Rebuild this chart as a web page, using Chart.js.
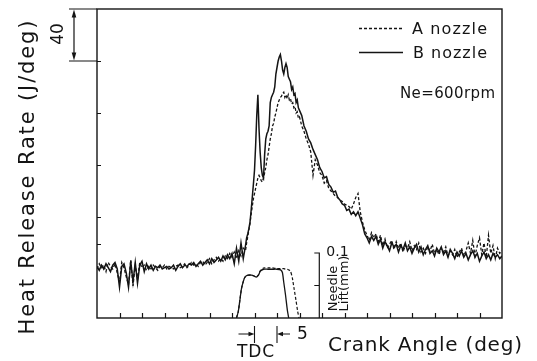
<!DOCTYPE html>
<html><head><meta charset="utf-8">
<script src="https://cdn.jsdelivr.net/npm/chart.js@4.4.1/dist/chart.umd.min.js"></script>
<style>html,body{margin:0;padding:0;background:#fff}canvas{display:block}</style>
</head><body>
<canvas id="c" width="537" height="361"></canvas>
<script>
// Crank angle (deg ATDC)
const crankAngles = [
-35,-34.5,-34,-33.5,-33,-32.5,-32,-31.5,-31,-30.5,-30,-29.5,-29,-28.5,-28,-27.5,-27,-26.5,-26,-25.5,
-25,-24.5,-24,-23.5,-23,-22.5,-22,-21.5,-21,-20.5,-20,-19.5,-19,-18.5,-18,-17.5,-17,-16.5,-16,-15.5,
-15,-14.5,-14,-13.5,-13,-12.5,-12,-11.5,-11,-10.5,-10,-9.5,-9,-8.5,-8,-7.5,-7,-6.5,-6,-5.5,
-5,-4.5,-4,-3.5,-3,-2.5,
-2,-1.75,-1.5,-1.25,-1,-0.75,-0.5,-0.25,0,0.25,0.5,0.75,1,1.25,1.5,1.75,2,2.25,2.5,2.75,
3,3.25,3.5,3.75,4,4.25,4.5,4.75,5,5.25,5.5,5.75,6,6.25,6.5,6.75,7,7.25,7.5,7.75,
8,8.25,8.5,8.75,9,9.25,9.5,9.75,10,
10.5,11,11.5,12,12.5,13,13.5,14,14.5,15,15.5,16,16.5,17,17.5,18,18.5,19,19.5,20,
20.5,21,21.5,22,22.5,23,23.5,24,24.5,25,25.5,26,26.5,27,27.5,28,28.5,29,29.5,30,
30.5,31,31.5,32,32.5,33,33.5,34,34.5,35,35.5,36,36.5,37,37.5,38,38.5,39,39.5,40,
40.5,41,41.5,42,42.5,43,43.5,44,44.5,45,45.5,46,46.5,47,47.5,48,48.5,49,49.5,50,
50.5,51,51.5,52,52.5,53,53.5,54,54.5,55];

// Heat release rate (J/deg), A nozzle (dashed)
const heatA = [
0,4,1,3,-2,5,2,0,4,-3, -10,5,1,-6,-12,7,-13,3,-8,5,
1,3,-1,2,0,3,1,-1,2,1, 3,0,2,1,0,2,3,1,2,4,
1,3,5,3,4,2,5,6,3,5, 8,4,7,9,6,8,6,10,8,12,
9,13,8,14,10,16,
14,20,25,30,35,42,48,54,58,62,66,70,72,70,68,67,70,74,78,84,
88,94,100,104,110,112,117,120,124,128,130,132,133,135,136,132,134,131,134,130,
131,127,128,124,125,120,121,116,117,
110,106,100,96,90,72,84,80,74,72, 66,68,62,60,58,56,55,53,52,50,
49,48,46,50,55,58,44,36,30,26, 22,28,24,27,21,26,18,23,16,19,
22,15,21,16,20,13,18,16,21,14, 18,15,20,13,16,12,17,14,19,12,
15,11,16,13,17,10,14,11,15,9, 13,16,10,14,20,12,22,10,18,24,
11,20,9,26,12,18,8,16,12,14];

// Heat release rate (J/deg), B nozzle (solid)
const heatB = [
2,-1,3,0,4,1,-2,3,5,0, -14,2,4,-3,-14,6,-10,5,-11,3,
6,-2,4,0,3,-1,2,1,3,0, 1,2,0,1,3,-1,2,4,1,3,
2,4,3,5,2,4,6,3,5,7, 4,8,5,7,9,6,10,7,11,8,
12,4,16,6,20,8,
18,24,27,31,36,45,55,65,76,95,118,134,108,90,78,72,70,88,100,104,
106,110,128,132,134,136,140,150,155,160,163,165,160,153,150,155,158,155,148,146,
144,138,140,134,135,128,130,124,122,
118,110,106,100,97,92,88,84,78,75, 70,71,65,63,59,60,55,53,50,49,
45,46,42,44,41,44,39,34,27,24, 20,25,22,25,19,23,16,21,18,14,
20,17,19,13,18,15,20,14,17,12, 16,19,13,17,11,15,18,12,14,10,
16,13,17,11,14,9,15,12,8,13, 10,14,9,12,7,11,14,9,12,6,
10,13,8,11,7,12,9,11,8,10];

// Needle lift (mm)
const needleAngles = [-4,-3.6,-3.2,-2.9,-2.5,-2.2,-1.8,-1.3,-0.7,-0.2,0.4,0.9,1.3,2,3,4,5,5.8,6.2,6.5,6.9,7.3,7.6,8,8.4,8.8,9.2,9.6,9.9];
const needleA = [0,0.01,0.03,0.045,0.056,0.062,0.065,0.066,0.066,0.065,0.063,0.067,0.073,0.077,0.077,0.077,0.076,0.076,0.076,0.076,0.075,0.075,0.074,0.072,0.062,0.045,0.028,0.01,0];
const needleB = [0,0.01,0.03,0.045,0.056,0.062,0.065,0.066,0.066,0.065,0.063,0.066,0.072,0.075,0.075,0.075,0.075,0.074,0.07,0.055,0.035,0.012,0,null,null,null,null,null,null];

const xTickValues = [-30,-25,-20,-15,-10,-5,0,5,10,15,20,25,30,35,40,45,50];
const yTickValues = [19,40,80,120,160];
const seriesNames = ['A nozzle','B nozzle'];

const INK = '#141414';
const FAM = '"DejaVu Sans", Verdana, sans-serif';

function spacedText(ctx, s, x, y, font, target, opts) {
  opts = opts || {};
  ctx.save();
  ctx.translate(x, y);
  if (opts.rot) ctx.rotate(opts.rot);
  ctx.font = font;
  ctx.fillStyle = INK;
  ctx.textBaseline = opts.base || 'alphabetic';
  ctx.textAlign = 'left';
  let ls = 0;
  if ('letterSpacing' in ctx) ctx.letterSpacing = '0px';
  const w = ctx.measureText(s).width;
  if (target && s.length > 1 && target > w) {
    ls = (target - w) / (s.length - 1);
    if ('letterSpacing' in ctx) ctx.letterSpacing = ls.toFixed(2) + 'px';
  }
  const total = (target && target > w) ? target : w;
  let sx = 0;
  if (opts.align === 'center') sx = -total / 2;
  else if (opts.align === 'right') sx = -total;
  ctx.fillText(s, sx, 0);
  ctx.restore();
}

function arrowHead(ctx, x, y, dir, len, half) {
  ctx.beginPath();
  if (dir === 'up') { ctx.moveTo(x, y); ctx.lineTo(x - half, y + len); ctx.lineTo(x + half, y + len); }
  if (dir === 'down') { ctx.moveTo(x, y); ctx.lineTo(x - half, y - len); ctx.lineTo(x + half, y - len); }
  if (dir === 'right') { ctx.moveTo(x, y); ctx.lineTo(x - len, y - half); ctx.lineTo(x - len, y + half); }
  if (dir === 'left') { ctx.moveTo(x, y); ctx.lineTo(x + len, y - half); ctx.lineTo(x + len, y + half); }
  ctx.closePath();
  ctx.fill();
}

const decor = {
  id: 'decor',
  afterDraw(chart) {
    const ctx = chart.ctx;
    const a = chart.chartArea;
    const xs = chart.scales.x, ys = chart.scales.y, y2 = chart.scales.y2;
    ctx.save();
    ctx.strokeStyle = INK;
    ctx.fillStyle = INK;
    ctx.lineWidth = 1.4;
    ctx.strokeRect(a.left, a.top, a.right - a.left, a.bottom - a.top);
    ctx.lineWidth = 1.2;
    ctx.beginPath();
    xTickValues.forEach(v => {
      const px = Math.round(xs.getPixelForValue(v)) + 0.5;
      ctx.moveTo(px, a.bottom); ctx.lineTo(px, a.bottom - 5);
    });
    yTickValues.forEach(v => {
      const py = Math.round(ys.getPixelForValue(v)) + 0.5;
      ctx.moveTo(a.left, py); ctx.lineTo(a.left + 4, py);
    });
    ctx.stroke();

    // y scale bar (40 J/deg)
    const yTop = ys.getPixelForValue(200), yBot = ys.getPixelForValue(160);
    const barX = a.left - 23;
    ctx.lineWidth = 1.2;
    ctx.beginPath();
    ctx.moveTo(a.left - 28, yTop); ctx.lineTo(a.left, yTop);
    ctx.moveTo(a.left - 28, yBot); ctx.lineTo(a.left, yBot);
    ctx.moveTo(barX, yTop + 6); ctx.lineTo(barX, yBot - 6);
    ctx.stroke();
    arrowHead(ctx, barX, yTop + 0.5, 'up', 8, 2.3);
    arrowHead(ctx, barX, yBot - 0.5, 'down', 8, 2.3);
    spacedText(ctx, '40', a.left - 38, (yTop + yBot) / 2 - 1, '17px ' + FAM, 18, {rot: -Math.PI / 2, align: 'center', base: 'middle'});

    // axis titles
    spacedText(ctx, 'Heat Release Rate (J/deg)', 28.5, 177.5, '21px ' + FAM, 314, {rot: -Math.PI / 2, align: 'center', base: 'middle'});
    spacedText(ctx, 'Crank Angle (deg)', 328, 351, '20px ' + FAM, 194, {});

    // TDC marker
    const x0 = xs.getPixelForValue(0), x5 = xs.getPixelForValue(5);
    ctx.lineWidth = 1.1;
    ctx.beginPath();
    ctx.moveTo(x0, 326); ctx.lineTo(x0, 343);
    ctx.moveTo(x5, 326); ctx.lineTo(x5, 343);
    ctx.moveTo(x0 - 16, 334); ctx.lineTo(x0 - 4, 334);
    ctx.moveTo(x5 + 4, 334); ctx.lineTo(x5 + 13, 334);
    ctx.stroke();
    arrowHead(ctx, x0, 334, 'right', 6, 2.2);
    arrowHead(ctx, x5, 334, 'left', 6, 2.2);
    spacedText(ctx, 'TDC', x0 + 1, 357, '17px ' + FAM, 37, {align: 'center'});
    spacedText(ctx, '5', x5 + 20, 339, '17px ' + FAM, 0, {});

    // needle lift scale bracket
    const bx = xs.getPixelForValue(14.4);
    const n1 = y2.getPixelForValue(0.1), nh = y2.getPixelForValue(0.05), n0 = y2.getPixelForValue(0);
    ctx.lineWidth = 1.2;
    ctx.beginPath();
    ctx.moveTo(bx - 5, n1); ctx.lineTo(bx, n1); ctx.lineTo(bx, n0);
    ctx.moveTo(bx - 5, nh); ctx.lineTo(bx, nh);
    ctx.stroke();
    spacedText(ctx, '0.1', bx + 7, n1 + 3, '14px ' + FAM, 0, {});
    spacedText(ctx, 'Needle', bx + 14, 288.5, '13px ' + FAM, 40, {rot: -Math.PI / 2, align: 'center', base: 'middle'});
    spacedText(ctx, 'Lift(mm)', bx + 25.5, 283.5, '13px ' + FAM, 53, {rot: -Math.PI / 2, align: 'center', base: 'middle'});

    // legend
    ctx.lineWidth = 1.3;
    ctx.setLineDash([3, 2]);
    ctx.beginPath(); ctx.moveTo(359, 28.5); ctx.lineTo(403, 28.5); ctx.stroke();
    ctx.setLineDash([]);
    ctx.beginPath(); ctx.moveTo(359, 52.5); ctx.lineTo(403, 52.5); ctx.stroke();
    spacedText(ctx, seriesNames[0], 412, 34, '16px ' + FAM, 75, {});
    spacedText(ctx, seriesNames[1], 413, 58, '16px ' + FAM, 74, {});
    spacedText(ctx, 'Ne=600rpm', 400, 98, '15px ' + FAM, 95, {});
    ctx.restore();
  }
};

const pts = (xsArr, ysArr) => xsArr.map((x, i) => ({x: x, y: ysArr[i]}));

new Chart(document.getElementById('c'), {
  type: 'line',
  data: {
    datasets: [
      {label: seriesNames[1], data: pts(crankAngles, heatB), borderColor: INK, borderWidth: 1.5, pointRadius: 0, tension: 0, yAxisID: 'y'},
      {label: seriesNames[0], data: pts(crankAngles, heatA), borderColor: INK, borderWidth: 1.3, borderDash: [3, 2], pointRadius: 0, tension: 0, yAxisID: 'y'},
      {label: 'Needle B', data: pts(needleAngles, needleB), borderColor: INK, borderWidth: 1.3, pointRadius: 0, tension: 0.2, yAxisID: 'y2', spanGaps: false},
      {label: 'Needle A', data: pts(needleAngles, needleA), borderColor: INK, borderWidth: 1.2, borderDash: [3, 2], pointRadius: 0, tension: 0.2, yAxisID: 'y2', spanGaps: false}
    ]
  },
  options: {
    responsive: false,
    devicePixelRatio: 1,
    animation: false,
    layout: {padding: {left: 97, right: 35, top: 9, bottom: 43}},
    plugins: {legend: {display: false}, tooltip: {enabled: false}},
    scales: {
      x: {type: 'linear', min: -35, max: 55, display: false},
      y: {type: 'linear', min: -37.7, max: 200, display: false},
      y2: {type: 'linear', min: 0, max: 0.4754, display: false}
    }
  },
  plugins: [decor]
});
</script>
</body></html>
